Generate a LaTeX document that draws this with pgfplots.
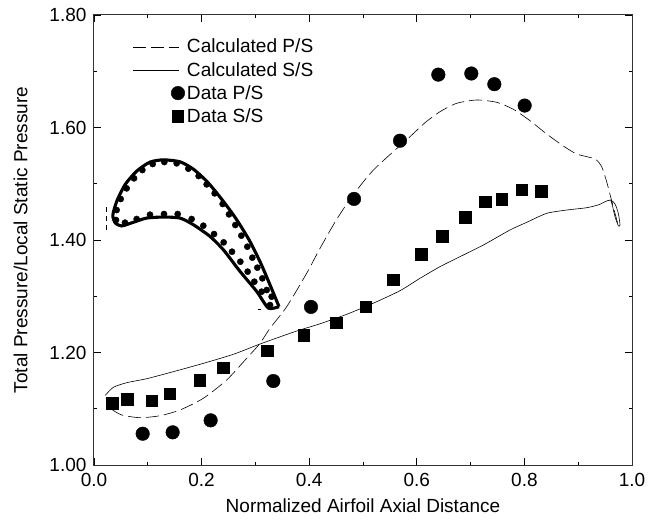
\documentclass[border=0pt]{standalone}
\usepackage{pgfplots}
\pgfplotsset{compat=1.18}
\usepackage{fontspec}
\setmainfont{Liberation Sans}
\begin{document}
\begin{tikzpicture}
\path[use as bounding box] (-94pt,-55pt) rectangle (564pt,465pt);
\begin{axis}[
  scale only axis, width=538pt, height=450pt,
  xmin=0, xmax=1, ymin=1, ymax=1.8,
  xtick={0,0.2,0.4,0.6,0.8,1.0}, ytick={1,1.2,1.4,1.6,1.8},
  minor xtick={0.1,0.3,0.5,0.7,0.9}, minor ytick={1.1,1.3,1.5,1.7},
  major tick length=7pt, minor tick length=3.5pt,
  tick style={black, line width=0.9pt}, minor tick style={black, line width=0.7pt},
  axis line style={line width=1pt, black!80},
  tick align=inside,
  x tick label style={/pgf/number format/fixed, /pgf/number format/fixed zerofill, /pgf/number format/precision=1, /pgf/number format/assume math mode=true, yshift=-5pt},
  y tick label style={/pgf/number format/fixed, /pgf/number format/fixed zerofill, /pgf/number format/precision=2, /pgf/number format/assume math mode=true, xshift=-4pt},
  font=\fontsize{19}{21}\selectfont,
  xlabel={Normalized Airfoil Axial Distance},
  ylabel={Total Pressure/Local Static Pressure},
  xlabel style={at={(axis description cs:0.5,0)}, anchor=north, yshift=-30pt},
  ylabel style={at={(axis description cs:0,0.5)}, anchor=south, yshift=63pt},
  legend style={draw=none, fill=none, at={(axis cs:0.0715,1.761)}, anchor=north west,
     font=\fontsize{19.1}{21}\selectfont, row sep=3.8pt, inner sep=0pt,
     /tikz/every even column/.style={column sep=5pt}},
  legend cell align=left,
  clip=false,
]
% Calculated P/S
\addplot[black, line width=0.6pt, dash pattern=on 13pt off 5pt, smooth, tension=0.4,
  legend image code/.code={\draw[line width=0.6pt, dash pattern=on 13pt off 5pt] (0pt,0pt) -- (46pt,0pt);}] coordinates {
(0.0329,1.0990)(0.0515,1.0889)(0.0855,1.0841)(0.1227,1.0876)(0.1599,1.0978)(0.2032,1.1186)
(0.2466,1.1511)(0.2838,1.1897)(0.3086,1.2163)(0.3271,1.2430)(0.3582,1.2814)(0.3953,1.3408)
(0.4201,1.3852)(0.4500,1.4350)(0.4800,1.4780)(0.5200,1.5250)(0.5874,1.5837)(0.6152,1.6085)
(0.6431,1.6281)(0.6741,1.6430)(0.7113,1.6489)(0.7485,1.6448)(0.7794,1.6324)(0.8104,1.6121)
(0.8414,1.5884)(0.8724,1.5671)(0.8972,1.5529)(0.9312,1.5440)(0.9436,1.5303)(0.9529,1.5037)
(0.9610,1.4741)(0.9684,1.4474)(0.9746,1.4254)};
\addlegendentry{Calculated P/S}
% Calculated S/S
\addplot[black, line width=0.6pt, smooth, tension=0.4,
  legend image code/.code={\draw[line width=0.6pt] (0pt,0pt) -- (46pt,0pt);}] coordinates {
(0.0211,1.1239)(0.0359,1.1381)(0.0607,1.1463)(0.0979,1.1534)(0.1474,1.1659)(0.2032,1.1807)
(0.2590,1.1968)(0.3086,1.2151)(0.3767,1.2382)(0.4200,1.2510)(0.4700,1.2680)(0.5200,1.2880)
(0.5688,1.3099)(0.6059,1.3319)(0.6431,1.3526)(0.6803,1.3704)(0.7237,1.3911)(0.7732,1.4178)
(0.8042,1.4314)(0.8414,1.4474)(0.8786,1.4533)(0.9158,1.4574)(0.9387,1.4628)(0.9498,1.4681)
(0.9604,1.4711)(0.9684,1.4640)(0.9746,1.4474)(0.9777,1.4267)(0.9746,1.4254)(0.9684,1.4414)
(0.9641,1.4592)(0.9604,1.4711)};
\addlegendentry{Calculated S/S}
% Data P/S
\addplot[only marks, mark=*, mark size=6.8pt, black,
  legend image code/.code={\fill[black] (45pt,0pt) circle (6.8pt);}] coordinates {
(0.0905,1.0556)(0.1462,1.0581)(0.2168,1.0794)(0.3333,1.1493)(0.4033,1.2810)(0.4833,1.4730)
(0.5688,1.5765)(0.6400,1.6940)(0.7013,1.6960)(0.7441,1.6770)(0.8005,1.6390)};
\addlegendentry{Data P/S}
% Data S/S
\addplot[only marks, mark=square*, mark size=5.7pt, black,
  legend image code/.code={\fill[black] (39.3pt,-5.7pt) rectangle (50.7pt,5.7pt);}] coordinates {
(0.0341,1.1102)(0.0620,1.1173)(0.1072,1.1143)(0.1406,1.1267)(0.1970,1.1505)(0.2404,1.1730)
(0.3222,1.2033)(0.3903,1.2311)(0.4500,1.2530)(0.5050,1.2810)(0.5558,1.3290)(0.6078,1.3751)
(0.6474,1.4071)(0.6902,1.4404)(0.7268,1.4681)(0.7578,1.4723)(0.7949,1.4889)(0.8309,1.4866)};
\addlegendentry{Data S/S}
% Airfoil outline
\addplot[black, line width=3.1pt, smooth, tension=0.4, forget plot] coordinates {
(0.3439,1.2815)(0.3290,1.3160)(0.3105,1.3575)(0.2890,1.3990)(0.2642,1.4375)(0.2394,1.4700)
(0.2115,1.5025)(0.1846,1.5260)(0.1599,1.5390)(0.1289,1.5425)(0.1041,1.5385)(0.0800,1.5230)
(0.0585,1.4995)(0.0430,1.4705)(0.0350,1.4444)(0.0395,1.4305)(0.0514,1.4250)(0.0731,1.4315)
(0.0979,1.4390)(0.1289,1.4408)(0.1599,1.4390)(0.1846,1.4272)(0.2156,1.4064)(0.2404,1.3827)
(0.2714,1.3442)(0.3024,1.3086)(0.3240,1.2790)(0.3439,1.2815)};
% Airfoil data dots
\addplot[only marks, mark=*, mark size=3.1pt, black, forget plot] coordinates {
(0.0421,1.4533)(0.0496,1.4729)(0.0607,1.4918)(0.0744,1.5096)(0.0899,1.5244)(0.1091,1.5351)
(0.1307,1.5386)(0.1537,1.5363)(0.1753,1.5268)(0.1945,1.5137)(0.2094,1.4989)(0.2243,1.4829)
(0.2392,1.4640)(0.2509,1.4456)(0.2627,1.4266)(0.2739,1.4077)(0.2850,1.3881)(0.2943,1.3686)
(0.3036,1.3508)(0.3129,1.3318)(0.3210,1.3111)(0.3302,1.2992)
(0.0409,1.4355)(0.0576,1.4308)(0.0793,1.4373)(0.1041,1.4450)(0.1301,1.4462)(0.1555,1.4462)
(0.1815,1.4373)(0.2032,1.4254)(0.2231,1.4106)(0.2410,1.3958)(0.2565,1.3792)(0.2720,1.3614)
(0.2856,1.3437)(0.2980,1.3259)(0.3116,1.3081)(0.3272,1.2844)};
% Small dashes by the airfoil
\addplot[black, line width=0.6pt, dash pattern=on 5pt off 4pt, forget plot] coordinates {
(0.0235,1.4590)(0.0235,1.4180)};
\addplot[black, line width=0.6pt, forget plot] coordinates {(0.3040,1.2770)(0.3100,1.2770)};
\end{axis}
\end{tikzpicture}
\end{document}
